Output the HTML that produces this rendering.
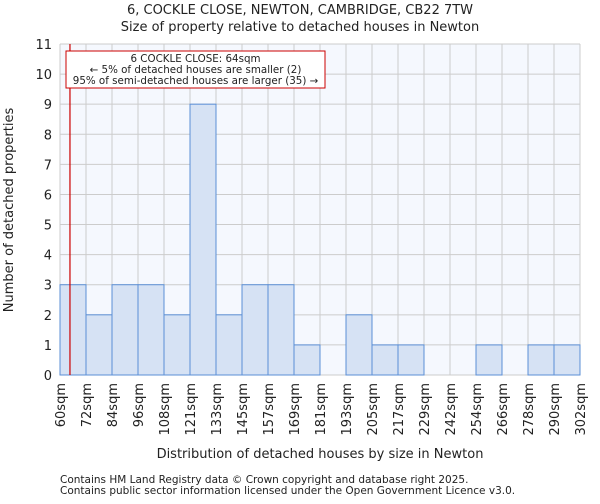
<!DOCTYPE html>
<html><head><meta charset="utf-8"><style>
body{margin:0;background:#fff;font-family:"DejaVu Sans","Liberation Sans",sans-serif;}
svg text{font-family:"DejaVu Sans","Liberation Sans",sans-serif;fill:#222;}
</style></head><body>
<svg id="c" width="600" height="500"></svg>
<script>
const binLabels=["60sqm","72sqm","84sqm","96sqm","108sqm","121sqm","133sqm","145sqm","157sqm","169sqm","181sqm","193sqm","205sqm","217sqm","229sqm","242sqm","254sqm","266sqm","278sqm","290sqm","302sqm"];
const counts=[3,2,3,3,2,9,2,3,3,1,0,2,1,1,0,0,1,0,1,1];
const yTicks=[0,1,2,3,4,5,6,7,8,9,10,11];
const markerValue=64;
const binStart=59.4, binWidth=12;
const svg=document.getElementById('c');const NS='http://www.w3.org/2000/svg';
const L=60,R=580,T=44,B=375,yMax=11;
const bw=(R-L)/counts.length;
const y=v=>B-(v/yMax)*(B-T);
const xIdx=i=>L+i*bw;
function mk(t,a,p){const e=document.createElementNS(NS,t);for(const k in a)e.setAttribute(k,a[k]);(p||svg).appendChild(e);return e;}
function tx(s,a,name){const e=mk('text',a);e.textContent=s;return e;}
const bg=mk('rect',{x:L,y:T,width:R-L,height:B-T,fill:'#f5f8fe'});


for(const v of yTicks){const g=mk('line',{x1:L,x2:R,y1:y(v),y2:y(v),stroke:'#cccccc','stroke-width':1});


tx(String(v),{x:L-8,y:y(v)+5,'text-anchor':'end','font-size':13},'y-tick-label');}
for(let i=0;i<=counts.length;i++){const g=mk('line',{x1:xIdx(i),x2:xIdx(i),y1:T,y2:B,stroke:'#cccccc','stroke-width':1});

}
counts.forEach((c,i)=>{if(c<=0)return;const r=mk('rect',{x:xIdx(i),y:y(c),width:bw,height:B-y(c),fill:'#d6e2f4',stroke:'#5b8fd6','stroke-width':1});

});
binLabels.forEach((s,i)=>{const px=xIdx(i);tx(s,{x:0,y:0,'font-size':13,'text-anchor':'end',transform:`translate(${px+5},${B+8}) rotate(-90)`},'x-tick-label');});
const mx=L+(markerValue-binStart)/binWidth*bw;
const ml=mk('line',{x1:mx,x2:mx,y1:T,y2:B,stroke:'#cc0000','stroke-width':1.2});


const box=mk('rect',{x:66,y:51,width:259,height:37,fill:'#fff',stroke:'#cc0000','stroke-width':1});


tx('6 COCKLE CLOSE: 64sqm',{x:195.5,y:62,'text-anchor':'middle','font-size':10.3},'annotation-line-1');
tx('← 5% of detached houses are smaller (2)',{x:195.5,y:73,'text-anchor':'middle','font-size':10.3},'annotation-line-2');
tx('95% of semi-detached houses are larger (35) →',{x:195.5,y:84,'text-anchor':'middle','font-size':10.3},'annotation-line-3');
tx('6, COCKLE CLOSE, NEWTON, CAMBRIDGE, CB22 7TW',{x:300,y:14,'text-anchor':'middle','font-size':13},'chart-title');
tx('Size of property relative to detached houses in Newton',{x:300,y:31,'text-anchor':'middle','font-size':13},'chart-subtitle');
tx('Distribution of detached houses by size in Newton',{x:320,y:458,'text-anchor':'middle','font-size':13},'x-axis-title');
tx('Number of detached properties',{x:0,y:0,'text-anchor':'middle','font-size':13,transform:'translate(13,210) rotate(-90)'},'y-axis-title');
tx('Contains HM Land Registry data © Crown copyright and database right 2025.',{x:60,y:483,'font-size':10.5},'footer-line-1');
tx('Contains public sector information licensed under the Open Government Licence v3.0.',{x:60,y:494,'font-size':10.5},'footer-line-2');
</script></body></html>
